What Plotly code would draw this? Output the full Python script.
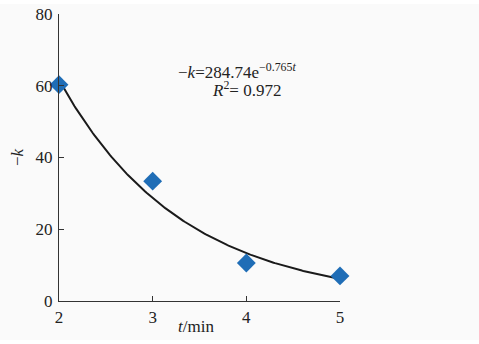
import numpy as np
import plotly.graph_objects as go

# measured rate constant vs time
t_min = [2, 3, 4, 5]
neg_k = [60.3, 33.4, 10.6, 7.0]

# exponential fit coefficients: -k = A * exp(B * t)
fit_a = 284.74
fit_b = -0.765
r_squared = 0.972

x_ticks = [2, 3, 4, 5]
y_ticks = [0, 20, 40, 60, 80]

t_fit = np.linspace(2, 5, 200)
k_fit = fit_a * np.exp(fit_b * t_fit)

font_family = "Times New Roman, Liberation Serif, serif"
text_color = "#222222"

W, H = 479, 344
L, R, T, B = 59, 139, 14, 43


def paper_xy(px, py):
    """Pixel position in the page -> paper coordinates of the plot area."""
    return (px - L) / (W - L - R), 1 - (py - T) / (H - T - B)


fig = go.Figure()
fig.add_trace(go.Scatter(
    x=t_fit, y=k_fit, mode="lines",
    line=dict(color="#1a1a1a", width=2),
    hoverinfo="skip", cliponaxis=False,
))
fig.add_trace(go.Scatter(
    x=t_min, y=neg_k, mode="markers",
    marker=dict(symbol="diamond", size=14.5, color="#1f6db6"),
    cliponaxis=False,
))

labels = [
    (238, 71, "\u2212<i>k</i>=284.74e<sup>\u22120.765<i>t</i></sup>", 0),
    (246, 89, f"<i>R</i><sup>2</sup>= {r_squared}", 0),
    (196, 326, "<i>t</i>/min", 0),
    (17, 157, "\u2212<i>k</i>", -90),
]
for px, py, txt, ang in labels:
    ax, ay = paper_xy(px, py)
    fig.add_annotation(
        x=ax, y=ay, xref="paper", yref="paper", showarrow=False,
        xanchor="center", yanchor="middle",
        text=txt, textangle=ang,
        font=dict(family=font_family, size=17, color=text_color),
    )

# thin white bands along the top and bottom page edges
x0, _ = paper_xy(0, 0)
x1, _ = paper_xy(W, 0)
_, y_top = paper_xy(0, 4)
_, y_page_top = paper_xy(0, 0)
_, y_bot = paper_xy(0, 340)
_, y_page_bot = paper_xy(0, H)
for ya, yb in [(y_top, y_page_top), (y_page_bot, y_bot)]:
    fig.add_shape(
        type="rect", xref="paper", yref="paper",
        x0=x0, x1=x1, y0=ya, y1=yb,
        fillcolor="#ffffff", line=dict(width=0), layer="below",
    )

fig.update_layout(
    width=W, height=H,
    margin=dict(l=L, r=R, t=T, b=B, autoexpand=False),
    paper_bgcolor="#fafafa", plot_bgcolor="rgba(0,0,0,0)",
    showlegend=False,
    font=dict(family=font_family, size=17, color=text_color),
)
fig.update_xaxes(
    range=[2, 5], tickvals=x_ticks, ticks="inside", ticklen=5,
    tickcolor="#333", showline=True, linecolor="#333", linewidth=1.2,
    showgrid=False, zeroline=False, automargin=False,
)
fig.update_yaxes(
    range=[0, 80], tickvals=y_ticks, ticks="inside", ticklen=5,
    tickcolor="#333", showline=True, linecolor="#333", linewidth=1.2,
    showgrid=False, zeroline=False, automargin=False, ticklabelstandoff=2,
)

fig.write_html("out.html")
